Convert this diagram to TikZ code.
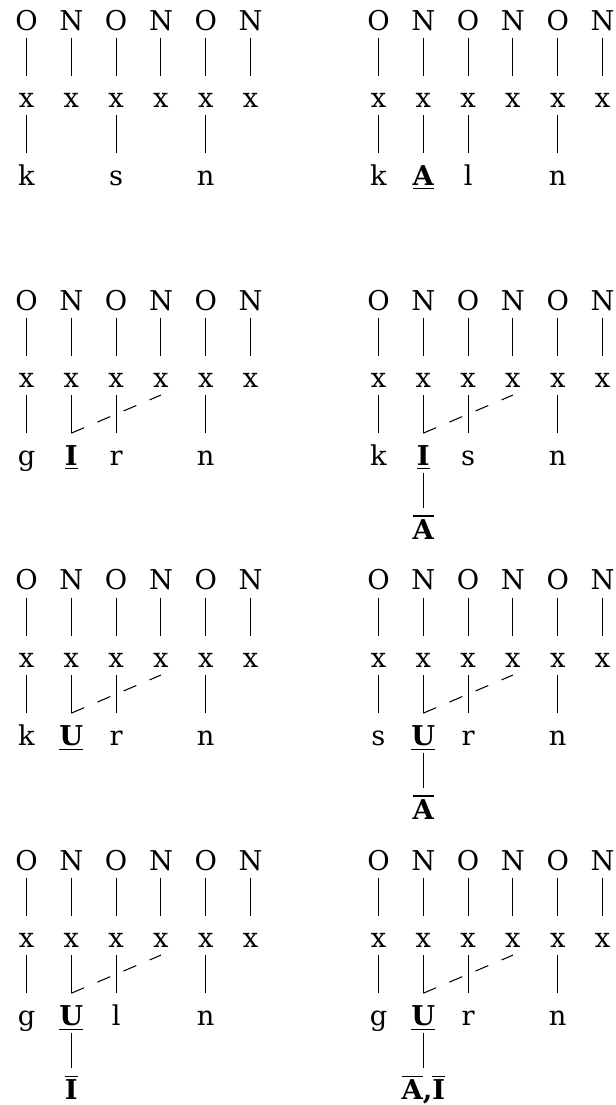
\documentclass[tikz,border=0pt]{standalone}
\usepackage{fontspec}
\setmainfont{DejaVu Serif}
\usetikzlibrary{positioning}
\newcommand{\headel}[1]{\underline{\textbf{#1}}}
\newcommand{\opel}[1]{$\overline{\hbox{\bfseries #1}}$}

\begin{document}
\begin{tikzpicture}[
  sk/.style={anchor=base,inner sep=0pt,text height=0.42cm,text depth=0.094cm,font=\fontsize{10.4}{12}\selectfont},
  assoc/.style={line width=0.4pt},
  spread/.style={line width=0.4pt,dash pattern=on 5.3pt off 5.5pt},
  node distance=0.51cm
]
  \useasboundingbox (-0.355,0.402) rectangle (7.880,-14.394);
  \foreach \p/\sx/\sy in {a/0/0,b/4.713/0,c/0/-3.749,d/4.713/-3.749,e/0/-7.498,f/4.713/-7.498,g/0/-11.248,h/4.713/-11.248}{
    \foreach \t [count=\i from 0] in {O,N,O,N,O,N}{
      \node[sk] (\p o\i) at (\sx+\i*0.6,\sy) {\t};
      \node[sk,below=of \p o\i] (\p x\i) {x};
      \draw[assoc] (\p o\i) -- (\p x\i);
    }
  }

  \node[sk,below=of ax0] (ak) {k};
  \node[sk,below=of ax2] (as) {s};
  \node[sk,below=of ax4] (an) {n};
  \draw[assoc] (ax0) -- (ak);
  \draw[assoc] (ax2) -- (as);
  \draw[assoc] (ax4) -- (an);

  \node[sk,below=of bx0] (bk) {k};
  \node[sk,below=of bx1] (bA) {\headel{A}};
  \node[sk,below=of bx2] (bl) {l};
  \node[sk,below=of bx4] (bn) {n};
  \draw[assoc] (bx0) -- (bk);
  \draw[assoc] (bx1) -- (bA);
  \draw[assoc] (bx2) -- (bl);
  \draw[assoc] (bx4) -- (bn);

  \node[sk,below=of cx0] (cg) {g};
  \node[sk,below=of cx1] (cI) {\headel{I}};
  \node[sk,below=of cx2] (cr) {r};
  \node[sk,below=of cx4] (cn) {n};
  \draw[assoc] (cx0) -- (cg);
  \draw[assoc] (cx1) -- (cI);
  \draw[assoc] (cx2) -- (cr);
  \draw[assoc] (cx4) -- (cn);
  \draw[spread] (cI.north) -- (cx3.south);

  \node[sk,below=of dx0] (dk) {k};
  \node[sk,below=of dx1] (dI) {\headel{I}};
  \node[sk,below=of dx2] (ds) {s};
  \node[sk,below=of dx4] (dn) {n};
  \node[sk,below=0.47cm of dI] (dA) {\opel{A}};
  \draw[assoc] (dx0) -- (dk);
  \draw[assoc] (dx1) -- (dI);
  \draw[assoc] (dx2) -- (ds);
  \draw[assoc] (dx4) -- (dn);
  \draw[spread] (dI.north) -- (dx3.south);
  \draw[assoc] (dI) -- (dA);

  \node[sk,below=of ex0] (ek) {k};
  \node[sk,below=of ex1] (eU) {\headel{U}};
  \node[sk,below=of ex2] (er) {r};
  \node[sk,below=of ex4] (en) {n};
  \draw[assoc] (ex0) -- (ek);
  \draw[assoc] (ex1) -- (eU);
  \draw[assoc] (ex2) -- (er);
  \draw[assoc] (ex4) -- (en);
  \draw[spread] (eU.north) -- (ex3.south);

  \node[sk,below=of fx0] (fs) {s};
  \node[sk,below=of fx1] (fU) {\headel{U}};
  \node[sk,below=of fx2] (fr) {r};
  \node[sk,below=of fx4] (fn) {n};
  \node[sk,below=0.47cm of fU] (fA) {\opel{A}};
  \draw[assoc] (fx0) -- (fs);
  \draw[assoc] (fx1) -- (fU);
  \draw[assoc] (fx2) -- (fr);
  \draw[assoc] (fx4) -- (fn);
  \draw[spread] (fU.north) -- (fx3.south);
  \draw[assoc] (fU) -- (fA);

  \node[sk,below=of gx0] (gg) {g};
  \node[sk,below=of gx1] (gU) {\headel{U}};
  \node[sk,below=of gx2] (gl) {l};
  \node[sk,below=of gx4] (gn) {n};
  \node[sk,below=0.47cm of gU] (gI) {\opel{I}};
  \draw[assoc] (gx0) -- (gg);
  \draw[assoc] (gx1) -- (gU);
  \draw[assoc] (gx2) -- (gl);
  \draw[assoc] (gx4) -- (gn);
  \draw[spread] (gU.north) -- (gx3.south);
  \draw[assoc] (gU) -- (gI);

  \node[sk,below=of hx0] (hg) {g};
  \node[sk,below=of hx1] (hU) {\headel{U}};
  \node[sk,below=of hx2] (hr) {r};
  \node[sk,below=of hx4] (hn) {n};
  \node[sk,below=0.47cm of hU] (hAI) {\opel{A}\textbf{,}\opel{I}};
  \draw[assoc] (hx0) -- (hg);
  \draw[assoc] (hx1) -- (hU);
  \draw[assoc] (hx2) -- (hr);
  \draw[assoc] (hx4) -- (hn);
  \draw[spread] (hU.north) -- (hx3.south);
  \draw[assoc] (hU) -- (hAI);
\end{tikzpicture}
\end{document}
